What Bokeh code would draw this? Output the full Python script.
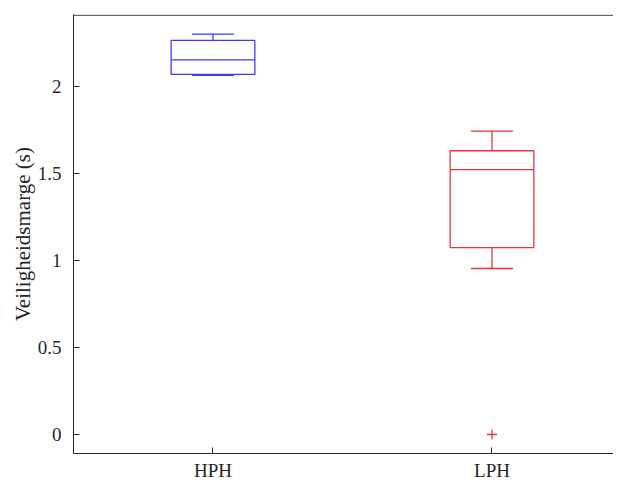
from bokeh.plotting import figure
from bokeh.models import FixedTicker, Range1d, ColumnDataSource, Span
from bokeh.embed import file_html
from bokeh.resources import INLINE

groups = ["HPH", "LPH"]
lower_whisker = [2.062, 0.953]
q1 = [2.067, 1.073]
median = [2.151, 1.520]
q3 = [2.262, 1.629]
upper_whisker = [2.298, 1.742]
outlier_group = ["LPH"]
outlier_value = [0.0]
colors = ["#3c3cf5", "#e8343a"]

y_ticks = [0, 0.5, 1, 1.5, 2]
y_tick_labels = {0: "0", 0.5: "0.5", 1: "1", 1.5: "1.5", 2: "2"}
y_limits = (-0.109, 2.407)

box_w = 0.30
cap_w = 0.15

xs = [i + 1 for i in range(len(groups))]

p = figure(width=613, height=483, output_backend="svg", toolbar_location=None,
           x_range=Range1d(0.5, 2.4355), y_range=Range1d(y_limits[0], y_limits[1] + 0.004),
           min_border_left=73, min_border_top=14, min_border_right=0, min_border_bottom=29)
p.background_fill_color = "white"
p.border_fill_color = "white"
p.outline_line_color = None
p.outline_line_alpha = 0
p.outline_line_width = 0
p.grid.visible = False

src = ColumnDataSource(dict(
    x=xs, left=[x - box_w / 2 for x in xs], right=[x + box_w / 2 for x in xs],
    cl=[x - cap_w / 2 for x in xs], cr=[x + cap_w / 2 for x in xs],
    lw=lower_whisker, q1=q1, med=median, q3=q3, uw=upper_whisker, color=colors))

p.segment(x0="x", x1="x", y0="q3", y1="uw", line_color="color", line_width=1.3, source=src)
p.segment(x0="x", x1="x", y0="lw", y1="q1", line_color="color", line_width=1.3, source=src)
p.segment(x0="cl", x1="cr", y0="uw", y1="uw", line_color="color", line_width=1.3, source=src)
p.segment(x0="cl", x1="cr", y0="lw", y1="lw", line_color="color", line_width=1.3, source=src)
p.quad(left="left", right="right", bottom="q1", top="q3", fill_color=None,
       line_color="color", line_width=1.3, source=src)
p.segment(x0="left", x1="right", y0="med", y1="med", line_color="color", line_width=1.3, source=src)

ox = [xs[groups.index(g)] for g in outlier_group]
p.scatter(ox, outlier_value, marker="cross", size=10, line_color=colors[1], line_width=1.3)

axis_col = "#262626"
font = "Liberation Serif"

p.add_layout(Span(location=y_limits[1], dimension="width", line_color=axis_col, line_width=1))

ya = p.yaxis[0]
ya.ticker = FixedTicker(ticks=y_ticks)
ya.major_label_overrides = y_tick_labels
ya.axis_label = "Veiligheidsmarge (s)"
ya.axis_label_text_font = font
ya.axis_label_text_font_style = "normal"
ya.axis_label_text_font_size = "21px"
ya.axis_label_text_color = axis_col
ya.axis_label_standoff = 0
ya.major_label_text_font = font
ya.major_label_text_font_size = "19px"
ya.major_label_text_color = axis_col
ya.major_tick_in = 6
ya.major_tick_out = 0
ya.minor_tick_in = 0
ya.minor_tick_out = 0
ya.axis_line_color = axis_col
ya.major_tick_line_color = axis_col
ya.major_label_standoff = 12

xa = p.xaxis[0]
xa.ticker = FixedTicker(ticks=xs)
xa.major_label_overrides = {x: g for x, g in zip(xs, groups)}
xa.major_label_text_font = font
xa.major_label_text_font_size = "19px"
xa.major_label_text_color = axis_col
xa.major_tick_in = 6
xa.major_tick_out = 0
xa.minor_tick_in = 0
xa.minor_tick_out = 0
xa.axis_line_color = axis_col
xa.major_tick_line_color = axis_col
xa.major_label_standoff = 6

open("out.html", "w").write(file_html(p, INLINE))
